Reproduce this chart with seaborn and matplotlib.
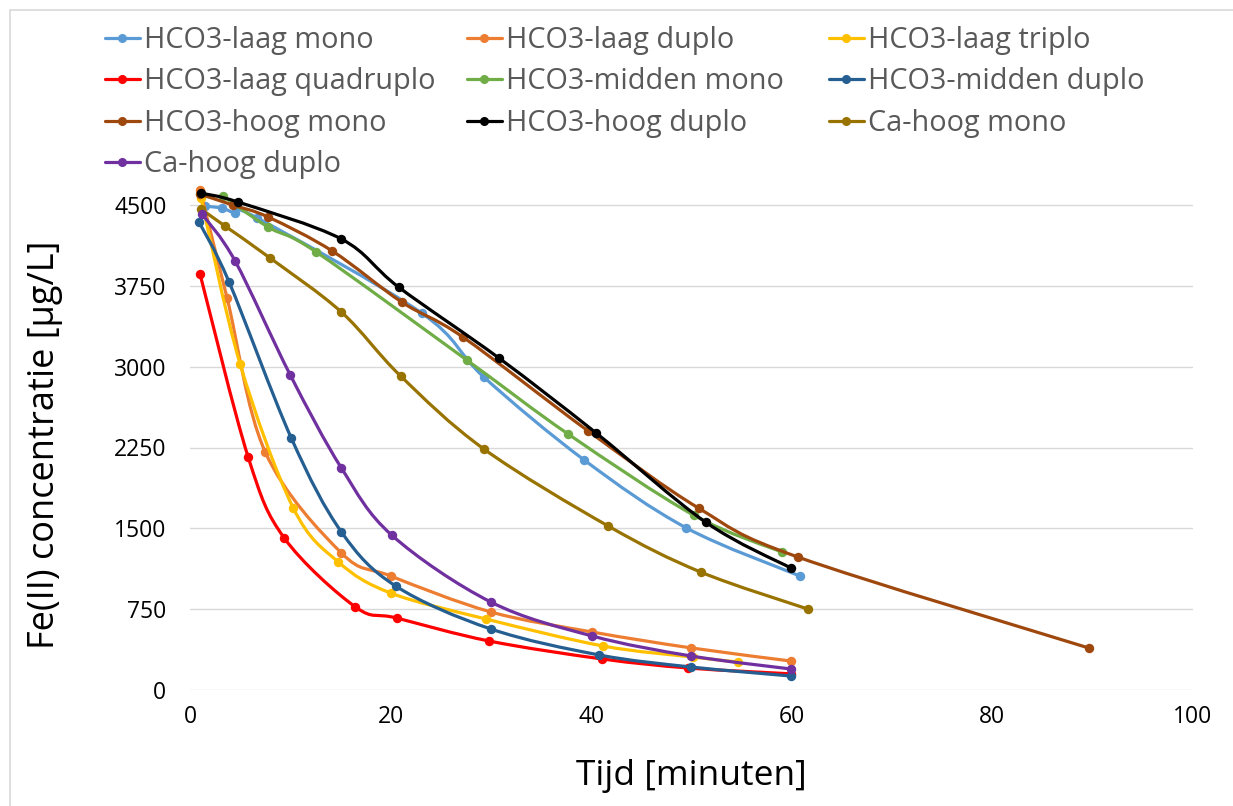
import numpy as np
import pandas as pd
import matplotlib
matplotlib.use("Agg")
import matplotlib.pyplot as plt
from matplotlib.path import Path
from matplotlib.patches import PathPatch, Rectangle
from matplotlib.lines import Line2D
import seaborn as sns

# ---------------- data ----------------
series_names = [
    "HCO3-laag mono", "HCO3-laag duplo", "HCO3-laag triplo",
    "HCO3-laag quadruplo", "HCO3-midden mono", "HCO3-midden duplo",
    "HCO3-hoog mono", "HCO3-hoog duplo", "Ca-hoog mono", "Ca-hoog duplo",
]

laag_mono_t = [1.5, 3.2, 4.5, 6.7, 23.1, 29.3, 39.3, 49.5, 60.8]
laag_mono_c = [4490, 4470, 4425, 4380, 3497, 2903, 2134, 1503, 1058]

laag_duplo_t = [1.0, 3.7, 7.5, 15.1, 20.0, 30.0, 40.1, 50.0, 59.9]
laag_duplo_c = [4640, 3636, 2208, 1271, 1058, 724, 538, 390, 269]

laag_triplo_t = [1.1, 5.0, 10.3, 14.8, 20.0, 29.5, 41.2, 50.1, 54.6]
laag_triplo_c = [4564, 3024, 1688, 1187, 900, 659, 408, 306, 260]

laag_quadruplo_t = [1.0, 5.8, 9.4, 16.5, 20.6, 29.8, 41.1, 49.7, 59.9]
laag_quadruplo_c = [3859, 2161, 1410, 770, 668, 455, 288, 204, 150]

midden_mono_t = [3.3, 7.8, 12.6, 27.6, 37.7, 50.2, 59.0]
midden_mono_c = [4583, 4295, 4063, 3061, 2375, 1623, 1280]

midden_duplo_t = [0.9, 3.9, 10.1, 15.1, 20.5, 30.0, 40.8, 50.0, 59.9]
midden_duplo_c = [4341, 3785, 2337, 1466, 965, 566, 325, 213, 130]

hoog_mono_t = [1.0, 4.3, 7.8, 14.2, 21.1, 27.2, 39.7, 50.7, 60.6, 89.6]
hoog_mono_c = [4600, 4499, 4388, 4072, 3600, 3275, 2403, 1688, 1234, 390]

hoog_duplo_t = [1.1, 4.8, 15.1, 20.8, 30.8, 40.5, 51.4, 59.9]
hoog_duplo_c = [4610, 4527, 4184, 3738, 3080, 2384, 1558, 1132]

ca_mono_t = [1.1, 3.5, 8.0, 15.1, 21.0, 29.3, 41.7, 50.9, 61.6]
ca_mono_c = [4462, 4304, 4007, 3506, 2913, 2236, 1521, 1095, 751]

ca_duplo_t = [1.2, 4.5, 10.0, 15.1, 20.1, 30.0, 40.1, 50.0, 59.9]
ca_duplo_c = [4416, 3980, 2922, 2059, 1438, 816, 501, 315, 195]

series_colors = ["#5B9BD5", "#ED7D31", "#FFC000", "#FF0000", "#70AD47",
                 "#255E91", "#9E480E", "#000000", "#997300", "#7030A0"]

x_ticks = [0, 20, 40, 60, 80, 100]
y_ticks = [0, 750, 1500, 2250, 3000, 3750, 4500]

all_t = [laag_mono_t, laag_duplo_t, laag_triplo_t, laag_quadruplo_t,
         midden_mono_t, midden_duplo_t, hoog_mono_t, hoog_duplo_t,
         ca_mono_t, ca_duplo_t]
all_c = [laag_mono_c, laag_duplo_c, laag_triplo_c, laag_quadruplo_c,
         midden_mono_c, midden_duplo_c, hoog_mono_c, hoog_duplo_c,
         ca_mono_c, ca_duplo_c]

rows = []
for name, ts, cs in zip(series_names, all_t, all_c):
    for t, c in zip(ts, cs):
        rows.append({"serie": name, "tijd": t, "conc": c})
df = pd.DataFrame(rows)

# ---------------- style ----------------
sns.set_theme(style="white")
plt.rcParams["font.family"] = ["Open Sans", "DejaVu Sans"]

W, H = 1233, 806
fig = plt.figure(figsize=(W / 100, H / 100), dpi=100)
fig.patch.set_facecolor("white")

def fx(px):
    return px / W

def fy(py):
    return 1 - py / H

ymax = 4650
px_per_unit = 485 / 4500
top_px = 690 - ymax * px_per_unit
ax = fig.add_axes([fx(190), fy(690), fx(1193) - fx(190), fy(top_px) - fy(690)])

ax.set_xlim(0, 100)
ax.set_ylim(0, ymax)
ax.set_xticks(x_ticks)
ax.set_yticks(y_ticks)
ax.set_xticklabels([str(v) for v in x_ticks], fontsize=16.5, color="#000000")
ax.set_yticklabels([str(v) for v in y_ticks], fontsize=16.5, color="#000000")
ax.tick_params(axis="both", length=0)
ax.tick_params(axis="y", pad=17)
ax.tick_params(axis="x", pad=11)
ax.yaxis.grid(True, color="#D9D9D9", lw=1.0)
ax.xaxis.grid(False)
for s in ax.spines.values():
    s.set_visible(False)


def smooth_path(x, y):
    pts = np.column_stack([np.asarray(x, float), np.asarray(y, float)])
    n = len(pts)
    verts = [pts[0]]
    codes = [Path.MOVETO]
    for i in range(n - 1):
        p0 = pts[i - 1] if i > 0 else pts[i]
        p1 = pts[i]
        p2 = pts[i + 1]
        p3 = pts[i + 2] if i + 2 < n else pts[i + 1]
        c1 = p1 + (p2 - p0) / 6.0
        c2 = p2 - (p3 - p1) / 6.0
        verts += [c1, c2, p2]
        codes += [Path.CURVE4] * 3
    return Path(verts, codes)


for k, (name, col) in enumerate(zip(series_names, series_colors)):
    sub = df[df["serie"] == name]
    patch = PathPatch(smooth_path(sub["tijd"], sub["conc"]), facecolor="none",
                      edgecolor=col, lw=2.3, capstyle="round",
                      joinstyle="round", clip_on=False, zorder=3 + 2 * k)
    ax.add_patch(patch)
    sns.scatterplot(data=sub, x="tijd", y="conc", color=col, s=46,
                    edgecolor=col, linewidth=0, ax=ax, legend=False,
                    clip_on=False, zorder=4 + 2 * k)

ax.set_xlabel("")
ax.set_ylabel("")

# axis titles
fig.text(fx(691), fy(776), "Tijd [minuten]", fontsize=25.5, ha="center",
         va="center", color="#000000")
fig.text(fx(45), fy(445), "Fe(II) concentratie [µg/L]", fontsize=26,
         ha="center", va="center", rotation=90, color="#000000")

# legend (Excel row-major order in three columns)
handles = [Line2D([], [], color=c, lw=2.3, marker="o", markersize=5.5)
           for c in series_colors]
col_x = [105, 467, 829]
for j in range(3):
    idx = list(range(j, len(series_names), 3))
    fig.legend([handles[i] for i in idx], [series_names[i] for i in idx],
               loc="upper left", bbox_to_anchor=(fx(col_x[j]), fy(26)),
               frameon=False, fontsize=20.8, handlelength=1.2,
               handletextpad=0.15, labelspacing=0.43, borderpad=0,
               borderaxespad=0, labelcolor="#595959")

# outer chart frame
fig.add_artist(Rectangle((fx(9.5), fy(H + 10)), 1.2, fy(9.5) - fy(H + 10),
                         transform=fig.transFigure, fill=False,
                         edgecolor="#D9D9D9", lw=1.2))

fig.savefig("out.png", dpi=100)
